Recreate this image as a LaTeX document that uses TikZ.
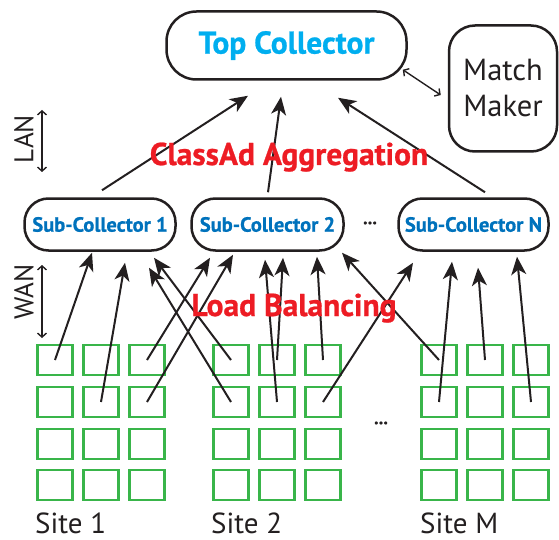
\documentclass[tikz,border=0pt]{standalone}
\usepackage{fontspec}
\setmainfont{PT Sans}[BoldFeatures={FakeBold=0.8}]
\usetikzlibrary{arrows.meta}

\definecolor{topblue}{RGB}{0,174,239}
\definecolor{subblue}{RGB}{0,114,188}
\definecolor{aggred}{RGB}{237,28,36}
\definecolor{cellgreen}{RGB}{57,181,74}
\definecolor{ink}{RGB}{35,31,32}

\begin{document}
\begin{tikzpicture}[x=1pt,y=-1pt,
  box/.style={draw=ink,line width=2.5pt,rounded corners=24pt,inner sep=0pt},
  cell/.style={draw=cellgreen,line width=2.6pt,minimum width=35pt,minimum height=30pt,inner sep=0pt},
  up/.style={draw=ink,line width=2pt,-{Stealth[length=18pt,width=15pt,inset=5pt]}},
  span/.style={draw=ink,line width=1.4pt,{Straight Barb[length=4pt,width=9pt]}-{Straight Barb[length=4pt,width=9pt]}},
  redlabel/.style={anchor=base,inner sep=0pt,text=aggred,font=\bfseries\fontsize{31.5}{31.5}\selectfont},
  sitelabel/.style={anchor=base west,inner sep=0pt,text=ink,font=\fontsize{29}{29}\selectfont},
  dots/.style={text=ink,font=\bfseries\fontsize{18}{18}\selectfont}]
\useasboundingbox (0,0) rectangle (559,540);

\node[box,rounded corners=30pt,minimum width=240pt,minimum height=68pt,text=topblue,font=\bfseries\fontsize{31.5}{31.5}\selectfont] (top) at (286.5,45.5) {Top Collector};
\node[box,rounded corners=26pt,minimum width=108pt,minimum height=126pt,align=center,text=ink,font=\fontsize{30.5}{36}\selectfont] (mm) at (503,88.5) {Match\\Maker};

\node[box,minimum width=151pt,minimum height=52pt,text=subblue,font=\bfseries\fontsize{20.5}{20.5}\selectfont] (sc1) at (100,224.5) {Sub-Collector 1};
\node[box,minimum width=152pt,minimum height=52pt,text=subblue,font=\bfseries\fontsize{20.5}{20.5}\selectfont] (sc2) at (267.5,224.5) {Sub-Collector 2};
\node[box,minimum width=150pt,minimum height=52pt,text=subblue,font=\bfseries\fontsize{20.5}{20.5}\selectfont] (scn) at (473.5,224.5) {Sub-Collector N};
\node[dots] (scdots) at (370,223) {...};

\node[cell] (a11) at (55,360) {};
\node[cell] (a12) at (101,360) {};
\node[cell] (a13) at (147,360) {};
\node[cell] (a21) at (55,402) {};
\node[cell] (a22) at (101,402) {};
\node[cell] (a23) at (147,402) {};
\node[cell] (a31) at (55,444) {};
\node[cell] (a32) at (101,444) {};
\node[cell] (a33) at (147,444) {};
\node[cell] (a41) at (55,485) {};
\node[cell] (a42) at (101,485) {};
\node[cell] (a43) at (147,485) {};

\node[cell] (b11) at (231,360) {};
\node[cell] (b12) at (277,360) {};
\node[cell] (b13) at (323,360) {};
\node[cell] (b21) at (231,402) {};
\node[cell] (b22) at (277,402) {};
\node[cell] (b23) at (323,402) {};
\node[cell] (b31) at (231,444) {};
\node[cell] (b32) at (277,444) {};
\node[cell] (b33) at (323,444) {};
\node[cell] (b41) at (231,485) {};
\node[cell] (b42) at (277,485) {};
\node[cell] (b43) at (323,485) {};

\node[cell] (m11) at (439,360) {};
\node[cell] (m12) at (485,360) {};
\node[cell] (m13) at (531,360) {};
\node[cell] (m21) at (439,402) {};
\node[cell] (m22) at (485,402) {};
\node[cell] (m23) at (531,402) {};
\node[cell] (m31) at (439,444) {};
\node[cell] (m32) at (485,444) {};
\node[cell] (m33) at (531,444) {};
\node[cell] (m41) at (439,485) {};
\node[cell] (m42) at (485,485) {};
\node[cell] (m43) at (531,485) {};
\node[dots] (sitedots) at (381,423) {...};

\draw[up] ([shift={(2,-7)}]sc1.north) -- ([shift={(-38.5,15)}]top.south);
\draw[up] ([shift={(0.5,-5)}]sc2.north) -- ([shift={(-5.5,16)}]top.south);
\draw[up] ([shift={(11.5,-5)}]scn.north) -- ([shift={(51.5,17)}]top.south);
\draw[span] ([shift={(-5,-11)}]top.south east) -- ([shift={(-7,6.5)}]mm.west);

\draw[up] (a11.center) -- ([shift={(-8,1)}]sc1.south);
\draw[up] (a22.center) -- ([shift={(25,11)}]sc1.south);
\draw[up] (b11.center) -- ([shift={(54,6)}]sc1.south);
\draw[up] (b21.center) -- ([shift={(49,16)}]sc1.south);

\draw[up] (a13.center) -- ([shift={(-57.5,6)}]sc2.south);
\draw[up] (a23.center) -- ([shift={(-34.5,3)}]sc2.south);
\draw[up] (b22.center) -- ([shift={(-2.5,8)}]sc2.south);
\draw[up] (b12.center) -- ([shift={(15.5,6)}]sc2.south);
\draw[up] (b13.center) -- ([shift={(49.5,5)}]sc2.south);
\draw[up] (m11.center) -- ([shift={(74.5,1)}]sc2.south);

\draw[up] (b23.center) -- ([shift={(-60.5,11)}]scn.south);
\draw[up] (m21.center) -- ([shift={(-21.5,10)}]scn.south);
\draw[up] (m12.center) -- ([shift={(4.5,16)}]scn.south);
\draw[up] (m23.center) -- ([shift={(43.5,5)}]scn.south);

\coordinate (lanhi) at (42,110);
\coordinate (lanlo) at (42,172);
\coordinate (wanhi) at (42,265);
\coordinate (wanlo) at (42,338);
\draw[span] (lanhi) -- (lanlo);
\draw[span] (wanhi) -- (wanlo);
\node[rotate=90,text=ink,font=\fontsize{27}{27}\selectfont] (lan) at (24,139) {LAN};
\node[rotate=90,text=ink,font=\fontsize{27}{27}\selectfont] (wan) at (24,292) {WAN};

\node[redlabel] (classad) at (289,165) {ClassAd Aggregation};
\node[redlabel] (loadbal) at (294,316) {Load Balancing};

\node[sitelabel] (site1) at (35,533) {Site 1};
\node[sitelabel] (site2) at (211,533) {Site 2};
\node[sitelabel] (sitem) at (420,533) {Site M};

\end{tikzpicture}
\end{document}
